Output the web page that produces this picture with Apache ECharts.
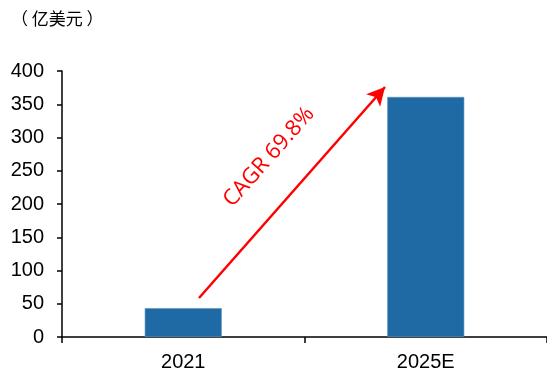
<!DOCTYPE html>
<html>
<head>
<meta charset="utf-8">
<script src="https://cdn.jsdelivr.net/npm/echarts@6/dist/echarts.min.js"></script>
<style>
  html, body { margin: 0; padding: 0; background: #fff; }
  #chart { width: 547px; height: 374px; }
</style>
</head>
<body>
<div id="chart"></div>
<script>
// Market size, 100 million USD
const categories = ['2021', '2025E'];
const marketSize = [43.4, 361];
const yTicks = [0, 50, 100, 150, 200, 250, 300, 350, 400];
const unitLabel = '（ 亿美元 ）';
const cagrLabel = 'CAGR 69.8%';

const chart = echarts.init(document.getElementById('chart'));

const arrowAngle = Math.atan2(210, 186); // slope of the growth arrow

chart.setOption({
  animation: false,
  grid: { left: 62, right: -5, top: 71, bottom: 37 },
  xAxis: {
    type: 'category',
    data: categories,
    axisLine: { lineStyle: { color: '#000', width: 1.5 } },
    axisTick: { show: true, length: 6, lineStyle: { color: '#000', width: 1.5 } },
    axisLabel: { color: '#000', fontSize: 20, fontFamily: 'Liberation Sans, Arial', margin: 15 }
  },
  yAxis: {
    type: 'value',
    min: yTicks[0],
    max: yTicks[yTicks.length - 1],
    interval: 50,
    splitLine: { show: false },
    axisLine: { show: true, lineStyle: { color: '#000', width: 1.5 } },
    axisTick: { show: true, length: 5, lineStyle: { color: '#000', width: 1.5 } },
    axisLabel: { color: '#000', fontSize: 20, fontFamily: 'Liberation Sans, Arial', margin: 18 }
  },
  series: [{
    type: 'bar',
    data: marketSize,
    barWidth: 77,
    itemStyle: { color: '#1F6AA5', borderColor: '#5C93C2', borderWidth: 0.6 },
    markLine: {
      silent: true,
      symbol: ['none', 'arrow'],
      symbolSize: [14, 18],
      label: { show: false },
      lineStyle: { color: '#FF0000', width: 2.5, type: 'solid' },
      data: [[{ x: 199, y: 298 }, { x: 385, y: 87 }]]
    }
  }],
  graphic: [
    {
      type: 'text',
      left: 11,
      top: 10,
      style: { text: unitLabel, fontSize: 17, fill: '#000', fontFamily: 'Noto Sans CJK SC' }
    },
    {
      type: 'text',
      x: 269,
      y: 157,
      rotation: arrowAngle,
      style: {
        text: cagrLabel,
        fontSize: 22,
        fill: '#FF0000',
        fontFamily: 'Open Sans, Liberation Sans',
        align: 'center',
        verticalAlign: 'middle'
      }
    }
  ]
});
</script>
</body>
</html>
